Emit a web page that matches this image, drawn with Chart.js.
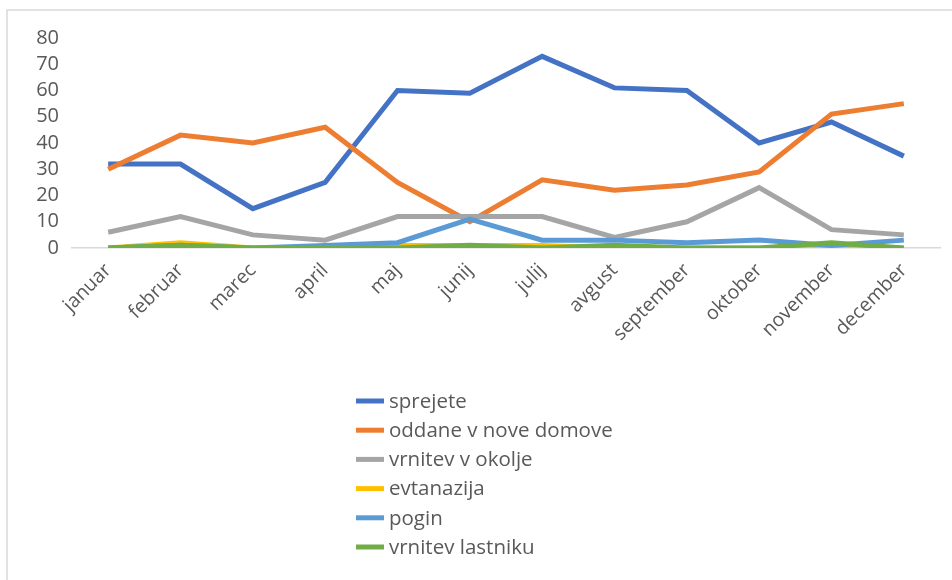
<!DOCTYPE html>
<html>
<head>
<meta charset="utf-8">
<script src="https://cdn.jsdelivr.net/npm/chart.js@4.4.0/dist/chart.umd.min.js"></script>
<style>
  html, body { margin: 0; padding: 0; background: #fff; }
  #wrap { position: relative; width: 952px; height: 580px; }
</style>
</head>
<body>
<div id="wrap"><canvas id="linechart" width="952" height="580"></canvas></div>
<script>
const months = ['januar','februar','marec','april','maj','junij','julij','avgust','september','oktober','november','december'];

const sprejete = [32,32,15,25,60,59,73,61,60,40,48,35];
const oddane = [30,43,40,46,25,10,26,22,24,29,51,55];
const vrnitevOkolje = [6,12,5,3,12,12,12,4,10,23,7,5];
const evtanazija = [0,2,0,0,1,1,1,0,0,0,0,0];
const pogin = [0,1,0,1,2,11,3,3,2,3,1,3];
const vrnitevLastniku = [0,1,0,0,0,1,0,1,0,0,2,0];

const yTicks = [0,10,20,30,40,50,60,70,80];

const fontFamily = "'Open Sans', 'Noto Sans', sans-serif";
const textColor = "#595959";

function series(label, data, color, idx) {
    return {
        label: label,
        data: data,
        borderColor: color,
        backgroundColor: color,
        borderWidth: 5,
        pointRadius: 0,
        tension: 0,
        order: 10 - idx
    };
}

// legend drawn as one column under the axis, like the Excel one
const columnLegend = {
    id: 'columnLegend',
    beforeDraw(chart) {
        const c = chart.ctx;
        c.save();
        c.strokeStyle = '#d9d9d9';
        c.lineWidth = 1.5;
        c.beginPath();
        c.moveTo(7, 580);
        c.lineTo(7, 10);
        c.lineTo(952, 10);
        c.stroke();
        c.restore();
    },
    afterDraw(chart) {
        const c = chart.ctx;
        c.save();
        c.font = "20.5px " + fontFamily;
        c.textBaseline = 'middle';
        c.fillStyle = textColor;
        chart.data.datasets.forEach((ds, i) => {
            const y = 401 + i * 29.2;
            c.strokeStyle = ds.borderColor;
            c.lineWidth = 5;
            c.beginPath();
            c.moveTo(356, y);
            c.lineTo(384, y);
            c.stroke();
            c.fillText(ds.label, 389, y + 1);
        });
        c.restore();
    }
};

new Chart(document.getElementById('linechart'), {
    type: 'line',
    data: {
        labels: months,
        datasets: [
            series('sprejete', sprejete, '#4472C4', 0),
            series('oddane v nove domove', oddane, '#ED7D31', 1),
            series('vrnitev v okolje', vrnitevOkolje, '#A5A5A5', 2),
            series('evtanazija', evtanazija, '#FFC000', 3),
            series('pogin', pogin, '#5B9BD5', 4),
            series('vrnitev lastniku', vrnitevLastniku, '#70AD47', 5)
        ]
    },
    options: {
        responsive: false,
        animation: false,
        layout: { padding: { top: 38, right: 12, left: 0, bottom: 0 } },
        plugins: {
            legend: { display: false },
            tooltip: { enabled: false }
        },
        scales: {
            x: {
                offset: true,
                grid: { display: false, drawTicks: false },
                border: { display: true, color: '#d9d9d9', width: 1.5 },
                ticks: {
                    color: textColor,
                    font: { family: fontFamily, size: 19.5 },
                    minRotation: 45,
                    maxRotation: 45,
                    autoSkip: false,
                    padding: 11
                },
                afterFit(scale) { scale.height = 332; }
            },
            y: {
                min: 0,
                max: 80,
                grid: { display: false, drawTicks: false },
                border: { display: false },
                afterBuildTicks(scale) { scale.ticks = yTicks.map(v => ({ value: v })); },
                ticks: {
                    color: textColor,
                    font: { family: fontFamily, size: 20 },
                    autoSkip: false,
                    padding: 13
                },
                afterFit(scale) { scale.width = 72; }
            }
        }
    },
    plugins: [columnLegend]
});
</script>
</body>
</html>
